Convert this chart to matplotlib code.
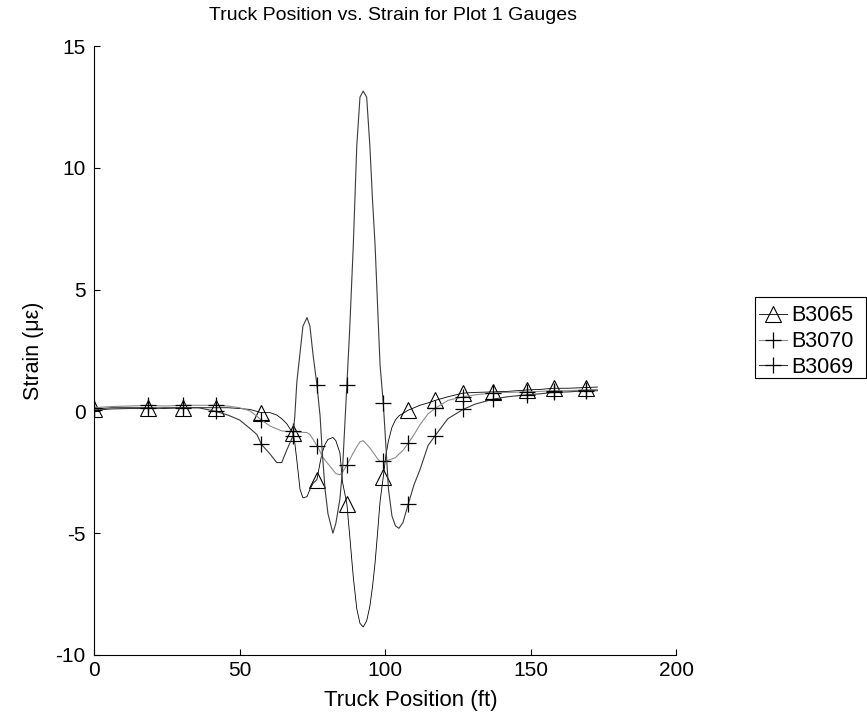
import numpy as np
import matplotlib
matplotlib.use('Agg')
import matplotlib.pyplot as plt
from matplotlib.patches import Rectangle

plt.rcParams['font.family'] = ['Liberation Sans', 'DejaVu Sans']
plt.rcParams['axes.unicode_minus'] = False

# Truck position (ft) for each recorded sample
position = [0, 6, 12, 18.6, 24, 30.6, 36, 41.9, 46, 50, 53.6, 56, 57.5, 60.5,
            62.8, 64.5, 66.2, 68.4, 69, 69.7, 70.8, 71.8, 73.2, 74.2, 75.3,
            76.6, 77.7, 78.4, 79.4, 80.4, 82.1, 83.1, 84.5, 85.4, 86.9, 87.8,
            89.1, 90.3, 91.4, 92.5, 93.7, 94.8, 95.7, 96.6, 97.5, 98.3, 99.4,
            100.3, 101.2, 102.4, 103.6, 104.8, 106.2, 108, 110, 112, 114.8,
            117.2, 121.6, 126.8, 131, 137.1, 142, 148.8, 153, 158, 163, 169, 173]

# Strain readings (microstrain) per gauge
b3065 = [0.10, 0.15, 0.15, 0.15, 0.12, 0.15, 0.15, 0.15, 0.15, 0.12, 0.08,
         0.00, -0.05, -0.05, -0.15, -0.30, -0.50, -0.90, -1.30, -2.00, -3.20,
         -3.55, -3.50, -3.20, -2.95, -2.80, -2.10, -1.70, -1.35, -1.15, -1.07,
         -1.20, -1.70, -2.90, -3.80, -5.00, -6.80, -8.10, -8.70, -8.85, -8.60,
         -8.00, -7.20, -6.20, -4.90, -3.70, -2.70, -1.80, -1.20, -0.65, -0.35,
         -0.18, -0.08, 0.05, 0.15, 0.25, 0.35, 0.45, 0.60, 0.75, 0.78, 0.80,
         0.82, 0.88, 0.90, 0.95, 0.95, 0.98, 1.00]
b3070 = [0.15, 0.20, 0.22, 0.25, 0.22, 0.25, 0.25, 0.25, 0.22, 0.15, 0.02,
         -0.20, -0.35, -0.60, -0.72, -0.80, -0.82, -0.82, -0.83, -0.84, -0.85,
         -0.86, -0.87, -0.95, -1.15, -1.40, -1.65, -1.85, -2.00, -2.15, -2.40,
         -2.55, -2.60, -2.50, -2.20, -2.00, -1.70, -1.45, -1.25, -1.20, -1.35,
         -1.50, -1.65, -1.80, -1.95, -2.05, -2.05, -2.05, -2.00, -1.95, -1.90,
         -1.75, -1.60, -1.30, -0.95, -0.55, -0.10, 0.12, 0.45, 0.60, 0.68,
         0.76, 0.78, 0.80, 0.82, 0.85, 0.85, 0.88, 0.90]
b3069 = [0.05, 0.10, 0.12, 0.12, 0.15, 0.15, 0.15, 0.00, -0.15, -0.35, -0.70,
         -0.95, -1.35, -1.75, -2.10, -2.10, -1.60, -1.00, -0.20, 1.20, 2.40,
         3.50, 3.85, 3.50, 2.30, 1.10, -0.20, -1.60, -3.20, -4.20, -5.00,
         -4.60, -3.60, -2.40, 1.10, 3.20, 6.80, 10.90, 12.90, 13.15, 12.90,
         10.90, 8.70, 6.80, 4.20, 1.90, 0.36, -1.40, -3.20, -4.30, -4.70,
         -4.80, -4.55, -3.80, -3.00, -2.40, -1.40, -1.00, -0.30, 0.08, 0.30,
         0.50, 0.60, 0.68, 0.72, 0.78, 0.80, 0.85, 0.85]

# samples that carry a marker
marker_pos = [0, 18.6, 30.6, 41.9, 57.5, 68.4, 76.6, 86.9, 99.4, 108, 117.2,
              126.8, 137.1, 148.8, 158, 169]
mark_idx = [position.index(p) for p in marker_pos]

fig = plt.figure(figsize=(8.67, 7.19), dpi=100)
ax = fig.add_axes([94 / 867, 1 - 655 / 719, 582 / 867, 609 / 719])

ax.plot(position, b3065, color='k', lw=0.6, marker='^', markevery=mark_idx,
        ms=12, mfc='none', mec='k', mew=0.8, label='B3065')
ax.plot(position, b3070, color='#8c8c8c', lw=0.8, marker='+', markevery=mark_idx,
        ms=12, mec='k', mew=0.9, label='B3070')
ax.plot(position, b3069, color='#3a3a3a', lw=0.8, marker='+', markevery=mark_idx,
        ms=12, mec='k', mew=0.9, label='B3069')

ax.set_xlim(0, 200)
ax.set_ylim(-10, 15)
ax.set_xticks([0, 50, 100, 150, 200])
ax.set_yticks([-10, -5, 0, 5, 10, 15])
ax.spines['top'].set_visible(False)
ax.spines['right'].set_visible(False)
ax.tick_params(direction='in', length=4, width=0.8, labelsize=15)
ax.tick_params(axis='y', pad=6)
ax.tick_params(axis='x', pad=4)

ax.set_title('Truck Position vs. Strain for Plot 1 Gauges', fontsize=14,
             pad=19, x=0.514)
ax.set_xlabel('Truck Position (ft)', fontsize=16)
ax.xaxis.set_label_coords(0.545, -0.058)
ax.set_ylabel('Strain (\u03bc\u03b5)', fontsize=15.5, labelpad=8)

# legend entries, with a plain box drawn around them
ax.legend(loc='upper left', bbox_to_anchor=(755 / 867, 1 - 301 / 719),
          bbox_transform=fig.transFigure, fontsize=15.5, frameon=False,
          borderpad=0.2, handlelength=1.3, handletextpad=0.2,
          labelspacing=0.22, borderaxespad=0, numpoints=1)
fig.add_artist(Rectangle((755 / 867, 1 - 378 / 719), 111 / 867, 81 / 719,
                         transform=fig.transFigure, fill=False,
                         edgecolor='k', lw=0.8))

fig.savefig('out.png', dpi=100)
